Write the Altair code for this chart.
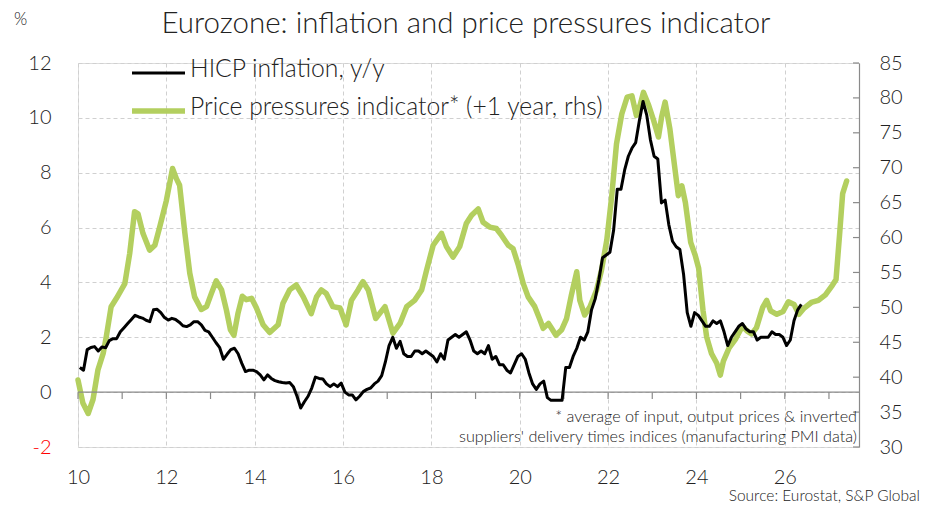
import altair as alt
import pandas as pd

# ---------------- data ----------------
# HICP inflation y/y, monthly from Jan 2010
hicp = [
    0.9, 0.8, 1.55, 1.63, 1.66, 1.5, 1.65, 1.62, 1.88, 1.95, 1.95, 2.2,
    2.35, 2.5, 2.65, 2.8, 2.74, 2.7, 2.62, 2.57, 3.0, 3.02, 2.9, 2.72,
    2.63, 2.69, 2.65, 2.55, 2.42, 2.39, 2.45, 2.57, 2.57, 2.45, 2.25, 2.2,
    2.0, 1.8, 1.62, 1.2, 1.38, 1.55, 1.6, 1.4, 1.05, 0.75, 0.8, 0.8,
    0.75, 0.63, 0.45, 0.63, 0.5, 0.42, 0.38, 0.35, 0.33, 0.35, 0.2, -0.15,
    -0.58, -0.35, -0.15, 0.15, 0.55, 0.5, 0.48, 0.3, 0.2, 0.3, 0.2, 0.33,
    0.0, -0.1, -0.1, -0.28, -0.15, 0.02, 0.1, 0.15, 0.3, 0.4, 0.6, 1.1,
    1.7, 2.0, 1.6, 1.85, 1.4, 1.3, 1.3, 1.5, 1.5, 1.4, 1.5, 1.4,
    1.3, 1.1, 1.4, 1.2, 1.9, 2.0, 2.1, 2.0, 2.1, 2.2, 1.9, 1.5,
    1.4, 1.5, 1.4, 1.7, 1.2, 1.3, 1.0, 1.0, 0.8, 0.7, 1.0, 1.3,
    1.4, 1.2, 0.7, 0.3, 0.1, 0.3, 0.4, -0.2, -0.3, -0.3, -0.3, -0.3,
    0.9, 0.9, 1.3, 1.6, 2.0, 1.9, 2.2, 3.0, 3.4, 4.1, 4.9, 5.0,
    5.1, 5.9, 7.4, 7.4, 8.1, 8.6, 8.9, 9.1, 9.9, 10.6, 10.1, 9.2,
    8.6, 8.5, 6.9, 7.0, 6.1, 5.5, 5.3, 5.2, 4.3, 2.9, 2.4, 2.9,
    2.8, 2.6, 2.4, 2.4, 2.6, 2.5, 2.6, 2.2, 1.7, 2.0, 2.2, 2.4,
    2.5, 2.3, 2.2, 2.2, 1.9, 2.0, 2.0, 2.0, 2.2, 2.1, 2.1, 2.0,
    1.7, 1.9, 2.6, 3.0, 3.2,
]
hicp_start = 2010

# Price pressures indicator (+1 year, rhs): time (decimal year) and value
ppi_t = [
    2010.00, 2010.11, 2010.23, 2010.34, 2010.45, 2010.57, 2010.64, 2010.75, 2010.87, 2010.98,
    2011.06, 2011.17, 2011.28, 2011.36, 2011.47, 2011.62, 2011.74, 2011.85, 2012.00, 2012.14,
    2012.23, 2012.30, 2012.42, 2012.53, 2012.64, 2012.79, 2012.91, 2013.02, 2013.13, 2013.25,
    2013.36, 2013.45, 2013.53, 2013.62, 2013.72, 2013.81, 2013.93, 2014.04, 2014.19, 2014.34,
    2014.53, 2014.64, 2014.79, 2014.94, 2015.10, 2015.28, 2015.40, 2015.51, 2015.62, 2015.77,
    2015.93, 2016.07, 2016.19, 2016.34, 2016.45, 2016.57, 2016.74, 2016.95, 2017.13, 2017.29,
    2017.44, 2017.62, 2017.78, 2017.89, 2018.04, 2018.23, 2018.34, 2018.49, 2018.64, 2018.79,
    2018.91, 2019.06, 2019.17, 2019.32, 2019.47, 2019.59, 2019.74, 2019.85, 2019.97, 2020.08,
    2020.19, 2020.34, 2020.46, 2020.53, 2020.65, 2020.72, 2020.82, 2020.95, 2021.06, 2021.17,
    2021.29, 2021.36, 2021.47, 2021.59, 2021.74, 2021.85, 2021.97, 2022.08, 2022.19, 2022.31,
    2022.43, 2022.54, 2022.64, 2022.73, 2022.80, 2022.91, 2023.03, 2023.14, 2023.21, 2023.29,
    2023.40, 2023.51, 2023.59, 2023.67, 2023.75, 2023.87, 2023.97, 2024.05, 2024.15, 2024.23,
    2024.34, 2024.46, 2024.54, 2024.61, 2024.74, 2024.89, 2025.04, 2025.15, 2025.25, 2025.36,
    2025.50, 2025.59, 2025.68, 2025.82, 2025.96, 2026.08, 2026.21, 2026.32, 2026.44, 2026.60,
    2026.76, 2026.92, 2027.08, 2027.16, 2027.24, 2027.31, 2027.40,
]
ppi_v = [
    39.6, 36.3, 34.8, 36.8, 41.0, 43.4, 45.8, 50.1, 51.3, 52.5,
    53.4, 57.7, 63.7, 63.4, 60.6, 58.2, 58.9, 61.5, 65.3, 69.9,
    68.4, 67.5, 60.6, 54.9, 51.5, 49.7, 50.1, 52.0, 53.8, 52.5,
    49.6, 46.8, 46.0, 49.1, 51.6, 51.1, 51.3, 49.9, 47.5, 46.4,
    47.5, 50.6, 52.5, 53.2, 51.5, 49.1, 51.5, 52.5, 52.0, 50.1,
    49.9, 47.5, 51.0, 52.5, 53.7, 52.5, 48.4, 50.1, 46.3, 47.7,
    50.1, 51.0, 52.5, 55.3, 58.9, 60.6, 58.7, 57.2, 58.7, 62.0,
    63.2, 64.1, 62.2, 61.5, 61.3, 60.3, 58.9, 58.4, 56.0, 53.4,
    51.5, 50.1, 48.2, 47.0, 47.7, 47.0, 46.0, 46.8, 48.4, 51.8,
    55.1, 51.0, 48.9, 50.1, 52.5, 55.3, 59.6, 65.8, 73.4, 77.7,
    80.1, 80.3, 77.5, 79.1, 80.8, 79.1, 76.8, 74.4, 77.2, 79.4,
    75.5, 70.0, 66.0, 67.4, 65.0, 59.3, 57.5, 55.6, 49.5, 45.8,
    43.4, 42.0, 40.3, 42.3, 44.2, 45.5, 47.3, 46.6, 46.2, 47.1,
    50.0, 51.0, 49.5, 49.0, 49.4, 50.8, 50.4, 49.0, 49.9, 50.7,
    51.0, 51.8, 53.2, 54.0, 60.4, 66.3, 68.1,
]

left_ticks = [-2, 0, 2, 4, 6, 8, 10, 12]
right_ticks = [30, 35, 40, 45, 50, 55, 60, 65, 70, 75, 80, 85]
label_years = [2010, 2012, 2014, 2016, 2018, 2020, 2022, 2024, 2026]
minor_years = list(range(2010, 2028))

series_names = ["HICP inflation, y/y", "Price pressures indicator* (+1 year, rhs)"]
series_colors = ["#000000", "#b3cf5f"]

title_text = "Eurozone: inflation and price pressures indicator"
note_lines = ["* average of input, output prices & inverted",
              "suppliers' delivery times indices (manufacturing PMI data)"]
source_text = "Source: Eurostat, S&P Global"

# ---------------- layout ----------------
W, H = 781, 384
FONT = "Lato"
TXT = "#222222"
GRID = "#d0d0d0"
AXISC = "#8a8a8a"
LIGHT = 300

hicp_df = pd.DataFrame({
    "t": [hicp_start + (i + 0.5) / 12 for i in range(len(hicp))],
    "v": hicp,
})
ppi_df = pd.DataFrame({"t": ppi_t, "v": ppi_v})
zero_df = pd.DataFrame({"v": [0]})
minor_df = pd.DataFrame({"t": minor_years})
rtick_df = pd.DataFrame({"v": right_ticks})

xs = alt.Scale(domain=[2010, 2027.68], nice=False, zero=False)
yls = alt.Scale(domain=[-2, 12], nice=False, zero=False)
yrs = alt.Scale(domain=[30, 85], nice=False, zero=False)

x_axis = alt.Axis(values=label_years, labelExpr="substring(toString(datum.value), 2)",
                  grid=True, gridDash=[4, 3], gridColor=GRID, domain=False, ticks=False,
                  labelFont=FONT, labelFontSize=20, labelFontWeight=LIGHT, labelColor=TXT,
                  labelPadding=20, labelFlush=False, labelOverlap=False, title=None)
yl_axis = alt.Axis(orient="left", values=left_ticks, grid=True, gridDash=[4, 3], gridColor=GRID,
                   domain=False, ticks=False, labelFont=FONT, labelFontSize=20,
                   labelFontWeight=LIGHT, labelExpr="toString(datum.value)",
                   labelColor={"expr": "datum.value < 0 ? '#ff0000' : '#222222'"},
                   labelPadding=27, labelOverlap=False, title=None)
yr_axis = alt.Axis(orient="right", values=right_ticks, grid=False, domain=True, domainColor=AXISC,
                   domainWidth=1.2, ticks=False, labelFont=FONT, labelFontSize=20,
                   labelFontWeight=LIGHT, labelColor=TXT, labelPadding=20,
                   labelOverlap=False, labelFlush=False, title=None)

# right group (price pressures)
ppi_line = alt.Chart(ppi_df).mark_line(
    color=series_colors[1], strokeWidth=5.5, strokeCap="round", strokeJoin="round"
).encode(x=alt.X("t:Q", scale=xs, axis=x_axis), y=alt.Y("v:Q", scale=yrs, axis=yr_axis))
rticks = alt.Chart(rtick_df).mark_rule(color=AXISC, strokeWidth=1.2).encode(
    y=alt.Y("v:Q", scale=yrs, axis=yr_axis), x=alt.value(W - 6), x2=alt.value(W))
right = alt.layer(ppi_line, rticks)

# left group (HICP)
zero_rule = alt.Chart(zero_df).mark_rule(color=AXISC, strokeWidth=1.2).encode(
    y=alt.Y("v:Q", scale=yls, axis=yl_axis))
minor_ticks = alt.Chart(minor_df).mark_rule(color=AXISC, strokeWidth=1.2).encode(
    x=alt.X("t:Q", scale=xs, axis=x_axis), y=alt.datum(0), y2=alt.datum(-0.25))
hicp_line = alt.Chart(hicp_df).mark_line(
    color=series_colors[0], strokeWidth=3, strokeJoin="round"
).encode(x=alt.X("t:Q", scale=xs, axis=x_axis), y=alt.Y("v:Q", scale=yls, axis=yl_axis))
left = alt.layer(zero_rule, minor_ticks, hicp_line)

# legend (manual)
leg_df = pd.DataFrame({"name": series_names, "color": series_colors,
                       "w": [3, 5.5], "row": [0, 1]})
leg_y = alt.Y("row:Q", scale=alt.Scale(domain=[0, 1], range=[10, 48]), axis=None)
leg_lines = alt.Chart(leg_df).mark_rule(strokeCap="butt").encode(
    x=alt.value(54), x2=alt.value(107), y=leg_y,
    color=alt.Color("color:N", scale=None),
    strokeWidth=alt.StrokeWidth("w:Q", scale=None))
leg_text = alt.Chart(leg_df).mark_text(
    align="left", baseline="middle", font=FONT, fontSize=24.7, fontWeight=LIGHT,
    color=TXT, dy=-3
).encode(x=alt.value(112), y=leg_y, text="name:N")

def label(txt, x, y, size, align="left", color=TXT, baseline="alphabetic"):
    return alt.Chart(pd.DataFrame({"s": [txt]})).mark_text(
        align=align, baseline=baseline, font=FONT, fontSize=size, fontWeight=LIGHT, color=color
    ).encode(x=alt.value(x), y=alt.value(y), text="s:N")

title = label(title_text, 388, -30, 29.5, align="center")
pct = label("%", -64, -38, 17)
note1 = label(note_lines[0], 779, 359, 16.2, align="right")
note2 = label(note_lines[1], 779, 379, 16.2, align="right")
source = label(source_text, 842, 438, 15.5, align="right")

chart = alt.layer(
    right, left, leg_lines, leg_text, title, pct, note1, note2, source
).resolve_scale(y="independent").properties(
    width=W, height=H,
    autosize=alt.AutoSizeParams(type="none"),
    padding={"left": 70, "top": 55, "right": 67, "bottom": 58},
).configure_view(stroke=None).configure(background="white")

chart.save("out.html", embed_options={"renderer": "svg", "actions": False})
